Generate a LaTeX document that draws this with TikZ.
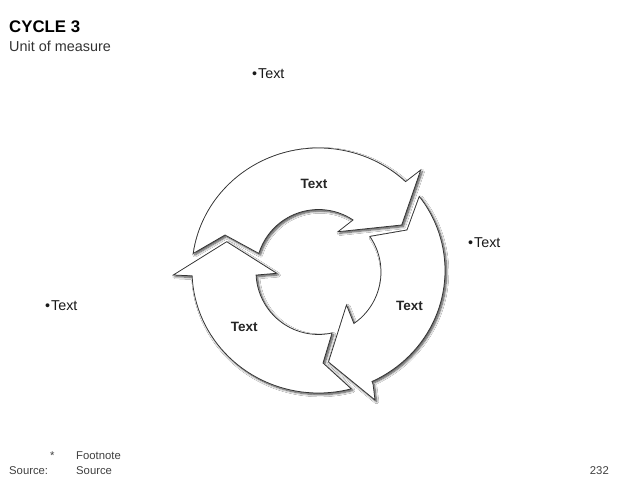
\documentclass[tikz,border=0pt]{standalone}
\usepackage{fontspec}
\setmainfont{Liberation Sans}
\usetikzlibrary{shadows.blur}
\begin{document}
\begin{tikzpicture}[x=1pt,y=1pt,
  arrowshape/.style={draw=black!80, line width=0.75pt, fill=white, line join=miter,
    blur shadow={shadow xshift=1.6pt, shadow yshift=-1.6pt, shadow blur radius=2.2pt, shadow blur steps=8, shadow opacity=75}},
  lbl/.style={font=\bfseries\fontsize{13.5}{15}\selectfont, text=black!85, inner sep=0pt},
  bul/.style={font=\fontsize{14.3}{16}\selectfont, anchor=base west, inner sep=0pt, text=black!90},
  foot/.style={font=\fontsize{11.3}{13}\selectfont, anchor=base west, inner sep=0pt, text=black!75}]
\fill[white] (0,0) rectangle (640,480);
\useasboundingbox (0,0) rectangle (640,480);
\coordinate (O) at (318.5,209.5);
\coordinate (I) at (318.5,208);
% top arrow
\path[arrowshape] ([shift={(172:126.5pt and 122.5pt)}]O)
  arc[start angle=172, end angle=46.5, x radius=126.5pt, y radius=122.5pt]
  -- (420.7,310) -- (401.7,255) -- (338,248.3)
  -- ([shift={(56.4:62.5pt)}]I) arc[start angle=56.4, end angle=162.7, radius=62.5pt]
  -- (225,245) -- cycle;
% right arrow
\path[arrowshape] ([shift={(37.2:126.5pt and 122.5pt)}]O)
  arc[start angle=37.2, end angle=-65, x radius=126.5pt, y radius=122.5pt]
  -- (373,96) -- (375,80) -- (328.5,118) -- (346.5,175)
  -- ([shift={(-55.5:62.5pt)}]I) arc[start angle=-55.5, end angle=34.7, radius=62.5pt]
  -- (407,250) -- cycle;
% left arrow
\path[arrowshape] ([shift={(-75:126.5pt and 122.5pt)}]O)
  arc[start angle=-75, end angle=-177.5, x radius=126.5pt, y radius=122.5pt]
  -- (173.3,205) -- (226.7,238.3) -- (276.7,206.7)
  -- ([shift={(-177.2:62.5pt)}]I) arc[start angle=-177.2, end angle=-77.5, radius=62.5pt]
  -- (323,117) -- cycle;
% arrow labels
\node[lbl] (t1) at (314,296) {Text};
\node[lbl] (t2) at (409.5,174.5) {Text};
\node[lbl] (t3) at (244.3,153.5) {Text};
% bullet texts
\node[bul] (b1) at (252,401) {\textbullet\kern1pt Text};
\node[bul] (b2) at (468,232.5) {\textbullet\kern1pt Text};
\node[bul] (b3) at (45,169.5) {\textbullet\kern1pt Text};
% title
\node[anchor=base west, inner sep=0pt, font=\bfseries\fontsize{16.8}{18}\selectfont] (title) at (9,447.7) {CYCLE 3};
\node[anchor=base west, inner sep=0pt, font=\fontsize{14.4}{16}\selectfont, text=black!80] (unit) at (9,428.3) {Unit of measure};
% footnotes
\node[foot] (star) at (50,21) {*};
\node[foot] (fn) at (76,21) {Footnote};
\node[foot] (src) at (9,6) {Source:};
\node[foot] (srcv) at (76,6) {Source};
\node[foot, anchor=base east] (pg) at (609,6) {232};
\end{tikzpicture}
\end{document}
